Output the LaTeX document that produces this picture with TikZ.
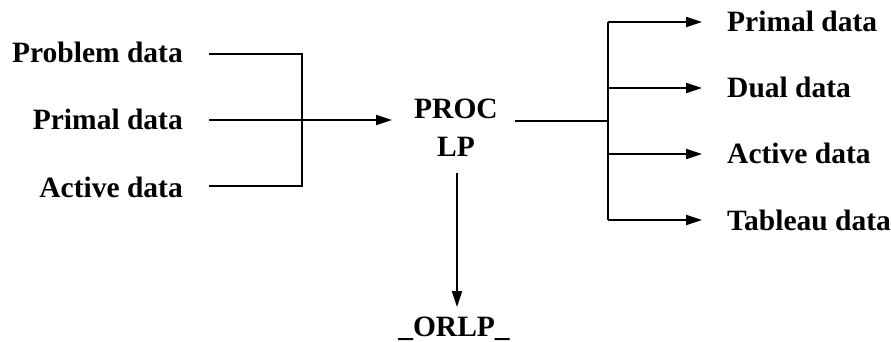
\documentclass[tikz,border=0pt]{standalone}
\usepackage{fontspec}
\setmainfont{Liberation Serif}
\usetikzlibrary{arrows.meta}
\begin{document}
\begin{tikzpicture}[x=1pt,y=-1pt,
  lbl/.style={font=\bfseries\fontsize{29.5}{34}\selectfont, inner sep=0pt},
  conn/.style={line width=2pt},
  arr/.style={conn, -{Triangle[length=16pt,width=10pt]}}]
\useasboundingbox (0,0) rectangle (891,342);
% left labels
\node[lbl, anchor=base east] (prob) at (183,63) {Problem data};
\node[lbl, anchor=base east] (prim) at (183,130) {Primal data};
\node[lbl, anchor=base east] (act)  at (183,197) {Active data};
% center
\node[lbl, anchor=base] (proc) at (456,118) {PROC};
\node[lbl, anchor=base] (lp)   at (456,157) {LP};
\node[lbl, anchor=base] (orlp) at (454,336) {\_ORLP\_};
% right labels
\node[lbl, anchor=base west] (rprim) at (727,32) {Primal data};
\node[lbl, anchor=base west] (rdual) at (727,98) {Dual data};
\node[lbl, anchor=base west] (ract)  at (727,164) {Active data};
\node[lbl, anchor=base west] (rtab)  at (727,230) {Tableau data};
% coordinates
\coordinate (jl) at (302,120);
\coordinate (pin) at (392,120);
\coordinate (pout) at (515,121);
\coordinate (jr) at (608,121);
\coordinate (pdown) at (457,173);
\coordinate (pend) at (457,307);
% left connectors
\draw[conn] (209,54) -| (jl);
\draw[conn] (209,186) -| (jl);
\draw[arr] (209,120) -- (pin);
% right connectors
\draw[conn] (pout) -- (jr);
\draw[conn] (608,22) -- (608,220);
\draw[arr] (608,22) -- (702,22);
\draw[arr] (608,88) -- (702,88);
\draw[arr] (608,154) -- (702,154);
\draw[arr] (608,220) -- (702,220);
% down
\draw[arr] (pdown) -- (pend);
\end{tikzpicture}
\end{document}
